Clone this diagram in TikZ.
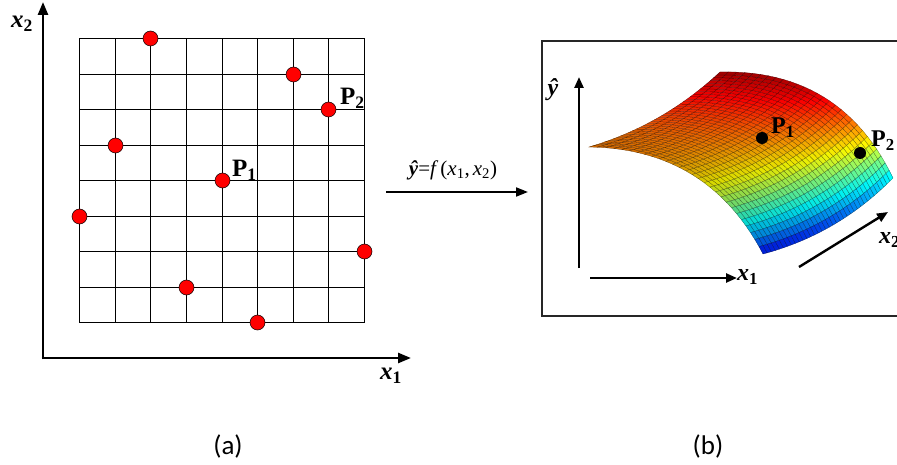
\documentclass[tikz,border=0pt]{standalone}
\usepackage{fontspec}
\setmainfont{Liberation Serif}
\newfontfamily\capfont{Carlito}
\usetikzlibrary{arrows.meta,positioning}

\begin{document}
\begin{tikzpicture}[x=1pt, y=-1pt,
  axisline/.style={line width=2.6pt, -{Triangle[length=13pt,width=10pt]}},
  thinaxis/.style={line width=2.4pt, -{Triangle[length=11pt,width=9pt]}},
  gridline/.style={line width=1.3pt},
  panel/.style={line width=1.4pt, draw=black!85},
  rdot/.style={circle, fill=red, draw=black, line width=0.5pt, minimum size=15pt, inner sep=0pt},
  bdot/.style={circle, fill=black, minimum size=12pt, inner sep=0pt},
  lbl/.style={font=\fontsize{25}{28}\selectfont\bfseries, inner sep=0pt},
  slbl/.style={font=\fontsize{24}{27}\selectfont\bfseries, inner sep=0pt, anchor=west},
  eqlbl/.style={font=\fontsize{21}{24}\selectfont, inner sep=0pt},
  caplbl/.style={font=\capfont\fontsize{27}{30}\selectfont, inner sep=0pt},
  declare function={
    gx(\k)=round(79+35.625*\k)+0.5;
    gy(\k)=round(38+35.5*\k)+0.5;
    sx(\u,\v)=(1-\u)*(1-\v)*589+\u*(1-\v)*720+\u*\v*893+(1-\u)*\v*763
      +4*\u*(1-\u)*((1-\v)*4+\v*5)+4*\v*(1-\v)*((1-\u)*16+\u*17);
    sy(\u,\v)=(1-\u)*(1-\v)*147+\u*(1-\v)*72+\u*\v*178+(1-\u)*\v*254
      +4*\u*(1-\u)*((1-\v)*8+\v*9)-4*\v*(1-\v)*((1-\u)*26+\u*28);
  }
]
\useasboundingbox (0,0) rectangle (897,465);
\clip (0,0) rectangle (897,465);

% (a) sample grid
\foreach \k in {0,...,8} {
  \draw[gridline] ({gx(\k)},{gy(0)}) -- ({gx(\k)},{gy(8)});
  \draw[gridline] ({gx(0)},{gy(\k)}) -- ({gx(8)},{gy(\k)});
}
\coordinate (aorig) at (43,358);
\coordinate (atop)  at (43,2);
\coordinate (aright) at (411,358);
\draw[axisline] ([yshift=-1.3pt]aorig) -- (atop);
\draw[axisline] ([xshift=-1.3pt]aorig) -- (aright);
\node[lbl] (xtwo) at (22,24)  {\itshape x\textsubscript{\upshape 2}};
\node[lbl] (xone) at (391,376) {\itshape x\textsubscript{\upshape 1}};

% sample points
\foreach \c/\r [count=\k] in {2/0,6/1,7/2,1/3,4/4,0/5,8/6,3/7,5/8}
  \node[rdot] (s\k) at ({gx(\c)},{gy(\r)}) {};
\node[lbl, anchor=west] (pone) at (232,170) {P\textsubscript{1}};
\node[lbl, anchor=west] (ptwo) at (340,98)  {P\textsubscript{2}};

% mapping arrow
\coordinate (fstart) at (386,192);
\coordinate (fend)   at (528,192);
\draw[line width=2pt, -{Triangle[length=12pt,width=9pt]}] (fstart) -- (fend);
\node[eqlbl] (feq) at (453,170)
  {\textbf{\textit{ŷ}}=\textit{f}\kern2pt(\textit{x}\textsubscript{1},\kern3pt\textit{x}\textsubscript{2})};

% (b) response surface
\draw[panel] (905,41) -- (542,41) -- (542,316) -- (905,316);
\foreach \i in {0,...,35} {
  \foreach \j in {0,...,27} {
    \pgfmathsetmacro{\ua}{\i/36}
    \pgfmathsetmacro{\ub}{(\i+1)/36}
    \pgfmathsetmacro{\va}{\j/28}
    \pgfmathsetmacro{\vb}{(\j+1)/28}
    \pgfmathsetmacro{\um}{(\ua+\ub)/2}
    \pgfmathsetmacro{\vm}{(\va+\vb)/2}
    \pgfmathsetmacro{\hv}{0.75+0.22*\um^2-0.62*\vm^3}
    \pgfmathsetmacro{\lf}{0.84+0.16*\um}
    \pgfmathsetmacro{\cr}{\lf*max(0,min(1,1.5-abs(4*\hv-3)))}
    \pgfmathsetmacro{\cg}{\lf*max(0,min(1,1.5-abs(4*\hv-2)))}
    \pgfmathsetmacro{\cb}{\lf*max(0,min(1,1.5-abs(4*\hv-1)))}
    \definecolor{surfc}{rgb}{\cr,\cg,\cb}
    \filldraw[fill=surfc, draw=black!55!surfc, line width=0.25pt]
      ({sx(\ua,\va)},{sy(\ua,\va)}) -- ({sx(\ub,\va)},{sy(\ub,\va)})
      -- ({sx(\ub,\vb)},{sy(\ub,\vb)}) -- ({sx(\ua,\vb)},{sy(\ua,\vb)}) -- cycle;
  }
}
\coordinate (borig) at (579,268);
\coordinate (btop)  at (579,77);
\coordinate (bxs)   at (590,278);
\coordinate (bxe)   at (737,278);
\coordinate (bzs)   at (799,267);
\coordinate (bze)   at (888,212);
\draw[thinaxis] (borig) -- (btop);
\draw[thinaxis] (bxs) -- (bxe);
\draw[thinaxis] (bzs) -- (bze);
\node[font=\fontsize{24}{27}\selectfont\bfseries\itshape, inner sep=0pt] (yhat) at (553,90) {ŷ};
\node[slbl] (bxone) at (737,277) {\itshape x\textsubscript{\upshape 1}};
\node[slbl] (bxtwo) at (879,240) {\itshape x\textsubscript{\upshape 2}};
\node[bdot] (q1) at (762,138) {};
\node[bdot] (q2) at (860,153) {};
\node[slbl] (qone) at (771,128) {P\textsubscript{1}};
\node[slbl] (qtwo) at (871,141) {P\textsubscript{2}};

% captions
\node[caplbl] (capa) at (228,446) {(a)};
\node[caplbl] (capb) at (708,446) {(b)};
\end{tikzpicture}
\end{document}
